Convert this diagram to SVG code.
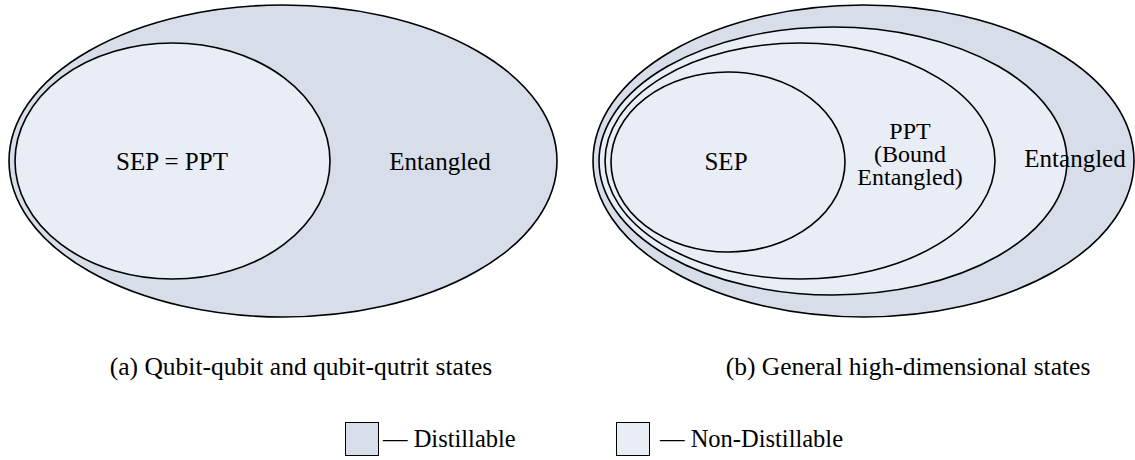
<svg xmlns="http://www.w3.org/2000/svg" width="1135" height="460" viewBox="0 0 1135 460">
<style>
.d{fill:#d7deea;stroke:#000;stroke-width:1.6}
.l{fill:#e9edf5;stroke:#000;stroke-width:1.6}
.t{font-family:"Liberation Serif","DejaVu Serif",serif;font-size:25px;fill:#000;text-anchor:middle}
.p{font-family:"Liberation Serif","DejaVu Serif",serif;font-size:24px;fill:#000;text-anchor:middle}
.c{font-family:"Liberation Serif","DejaVu Serif",serif;font-size:25.5px;fill:#000;text-anchor:middle}
.g{font-family:"Liberation Serif","DejaVu Serif",serif;font-size:24.5px;fill:#000}
</style>
<rect width="1135" height="460" fill="#fff"/>
<g id="left-entangled">
<ellipse class="d" cx="283" cy="161" rx="274" ry="156"/>
<text class="t" x="440" y="170">Entangled</text>
</g>
<g id="left-sep-ppt">
<ellipse class="l" cx="172.5" cy="161" rx="157.5" ry="118"/>
<text class="t" x="172" y="170">SEP = PPT</text>
</g>
<g id="right-entangled">
<ellipse class="d" cx="863.5" cy="161" rx="270.5" ry="156"/>
</g>
<g id="right-nondistillable">
<ellipse class="l" cx="833" cy="161" rx="234" ry="134"/>
</g>
<g id="right-ppt">
<ellipse class="l" cx="800" cy="161" rx="195" ry="118"/>
<text class="p" x="910" y="139">PPT</text>
<text class="p" x="910" y="162">(Bound</text>
<text class="p" x="910" y="185">Entangled)</text>
</g>
<g id="right-sep">
<ellipse class="l" cx="728" cy="162" rx="117" ry="90"/>
<text class="t" x="726" y="170">SEP</text>
</g>
<g id="right-entangled-label">
<text class="t" x="1075" y="167">Entangled</text>
</g>
<g id="connectors"></g>
<g id="captions">
<text class="c" x="301" y="375">(a) Qubit-qubit and qubit-qutrit states</text>
<text class="c" x="908" y="375">(b) General high-dimensional states</text>
</g>
<g id="legend">
<rect x="345.5" y="422.5" width="33" height="33" fill="#d7deea" stroke="#000" stroke-width="1"/>
<text class="g" x="383" y="447">— Distillable</text>
<rect x="616.5" y="422.5" width="33" height="33" fill="#e9edf5" stroke="#000" stroke-width="1"/>
<text class="g" x="660" y="447">— Non-Distillable</text>
</g>
</svg>
